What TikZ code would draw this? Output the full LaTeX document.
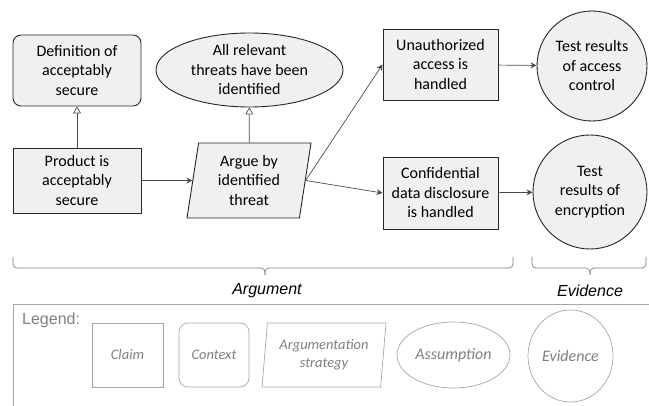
\documentclass[tikz,border=0pt]{standalone}
\usepackage{fontspec}
\setmainfont{Carlito}
\newfontfamily\arialfont{Liberation Sans}
\usetikzlibrary{shapes.geometric,arrows.meta}
\definecolor{boxfill}{HTML}{F0F0F0}
\definecolor{legendgray}{HTML}{A6A6A6}
\definecolor{legendtext}{HTML}{7F7F7F}

\begin{document}
\begin{tikzpicture}[x=1pt, y=-1pt,
   every node/.style={font=\fontsize{16}{19.5}\selectfont, align=center, inner sep=0pt},
   gsn/.style={draw=black!85, line width=0.9pt, fill=boxfill},
   claim/.style={gsn, rectangle, minimum width=115, minimum height=71},
   context/.style={gsn, rectangle, rounded corners=8pt, minimum width=128, minimum height=71},
   strategy/.style={gsn, trapezium, trapezium left angle=77, trapezium right angle=103,
                    trapezium stretches body, minimum width=124, minimum height=75},
   assumption/.style={gsn, ellipse, minimum width=187, minimum height=74},
   evidence/.style={gsn, circle, minimum size=110},
   supports/.style={draw=black!70, line width=0.7pt, -{Stealth[length=6pt, width=6pt]}},
   incontext/.style={draw=black!70, line width=0.7pt, -{Triangle[open, length=7pt, width=8pt]}},
   grouping/.style={draw=black!50, line width=0.7pt, rounded corners=4pt},
   bracelabel/.style={font=\arialfont\itshape\fontsize{16}{19}\selectfont},
   legendshape/.style={draw=legendgray, line width=0.7pt, text=legendtext,
                       font=\fontsize{14.5}{18}\selectfont\itshape}]

\useasboundingbox (0,0) rectangle (649,406);

\node[context] (def) at (77,70.5) {Definition of\\acceptably\\secure};
\node[claim, minimum width=128, minimum height=65] (prod) at (77,180.5) {Product is\\acceptably\\secure};
\node[assumption, label={[align=center]center:All relevant\\threats have been\\identified}] (threats) at (249.5,70) {};
\node[strategy] (argue) at (249,180.5) {Argue by\\identified\\threat};
\node[claim] (unauth) at (440.5,64.5) {Unauthorized\\access is\\handled};
\node[claim, minimum height=72] (confid) at (440.5,193) {Confidential\\data disclosure\\is handled};
\node[evidence] (acctest) at (592,66) {Test results\\of access\\control};
\node[evidence, minimum size=114] (enctest) at (590,192) {Test\\results of\\encryption};

\draw[incontext] (prod) -- (def);
\draw[incontext] (argue) -- (threats);
\draw[supports] (prod) -- (argue);
\draw[supports] (argue.east) -- (unauth.west);
\draw[supports] (argue.east) -- (confid.west);
\draw[supports] (unauth) -- (acctest);
\draw[supports] (confid) -- (enctest);

\coordinate (argL) at (13,257);
\coordinate (argR) at (513,257);
\coordinate (argM) at (265,268);
\coordinate (evL) at (532,257);
\coordinate (evR) at (646,257);
\coordinate (evM) at (590,268);
\draw[grouping] (argL) |- (argM) -- ++(0,7);
\draw[grouping] (argR) |- (argM) -- ++(0,7);
\draw[grouping] (evL) |- (evM) -- ++(0,7);
\draw[grouping] (evR) |- (evM) -- ++(0,7);
\node[bracelabel] (arglabel) at (267,291) {Argument};
\node[bracelabel] (evlabel) at (590,291) {Evidence};

\draw[draw=legendgray, line width=0.9pt] (13,406) -- (13,304) -- (649,304);
\node[anchor=base west, text=legendtext, font=\arialfont\fontsize{16}{19}\selectfont] (legend) at (22,325) {Legend:};
\node[legendshape, rectangle, minimum width=71, minimum height=64] (lclaim) at (127.5,355) {Claim};
\node[legendshape, rectangle, rounded corners=9pt, minimum width=70, minimum height=64] (lcontext) at (214,355) {Context};
\node[legendshape, trapezium, trapezium left angle=80, trapezium right angle=100,
      trapezium stretches body, minimum width=124, minimum height=64] (lstrategy) at (324,355) {Argumentation\\strategy};
\node[legendshape, ellipse, minimum width=113, minimum height=66,
      font=\fontsize{16}{19}\selectfont\itshape] (lassum) at (453.5,355) {Assumption};
\node[legendshape, ellipse, minimum width=85, minimum height=92,
      font=\fontsize{16}{19}\selectfont\itshape] (levid) at (570.5,356) {Evidence};

\end{tikzpicture}
\end{document}
